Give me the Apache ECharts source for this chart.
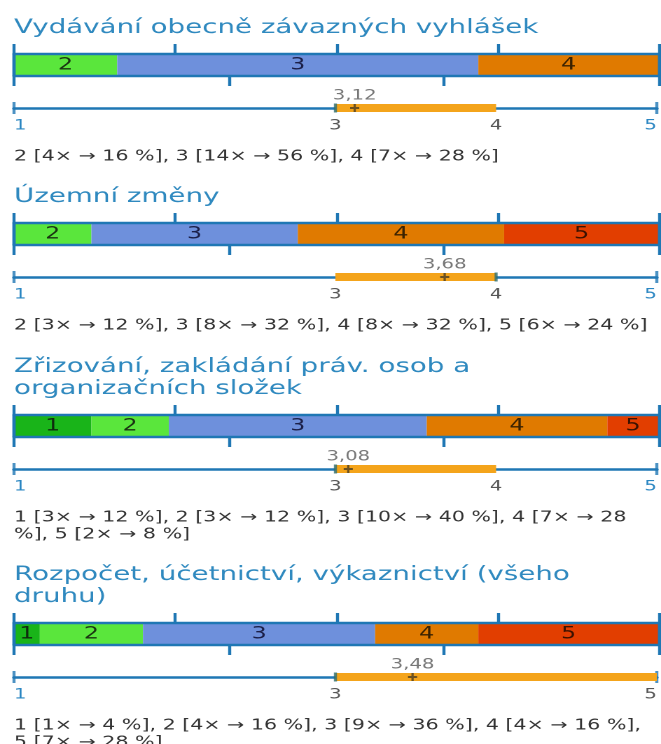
<!DOCTYPE html>
<html>
<head>
<meta charset="utf-8">
<script src="https://cdn.jsdelivr.net/npm/echarts@6/dist/echarts.min.js"></script>
<style>
  html, body { margin: 0; padding: 0; background: #fff; overflow: hidden; }
  /* the reference is stretched sideways, so draw narrow and widen */
  #chart { width: 472px; height: 744px; transform: scaleX(1.40042); transform-origin: 0 0; }
</style>
</head>
<body>
<div id="chart"></div>
<script>
var titles = [
  "Vydávání obecně závazných vyhlášek",
  "Územní změny",
  "Zřizování, zakládání práv. osob a\norganizačních složek",
  "Rozpočet, účetnictví, výkaznictví (všeho\ndruhu)"
];
var levels = ["1", "2", "3", "4", "5"];
// answers per level 1..5
var counts = [
  [0, 4, 14, 7, 0],
  [0, 3, 8, 8, 6],
  [3, 3, 10, 7, 2],
  [1, 4, 9, 4, 7]
];
var means = [3.12, 3.68, 3.08, 3.48];
var medians = [3, 4, 3, 3];
var q1 = [3, 3, 3, 3];
var q3 = [4, 4, 4, 5];
var scaleMin = 1;
var scaleMax = 5;
var summaries = [
  "2 [4× → 16 %], 3 [14× → 56 %], 4 [7× → 28 %]",
  "2 [3× → 12 %], 3 [8× → 32 %], 4 [8× → 32 %], 5 [6× → 24 %]",
  "1 [3× → 12 %], 2 [3× → 12 %], 3 [10× → 40 %], 4 [7× → 28\n%], 5 [2× → 8 %]",
  "1 [1× → 4 %], 2 [4× → 16 %], 3 [9× → 36 %], 4 [4× → 16 %],\n5 [7× → 28 %]"
];

var barTops = [54, 223, 415, 623];
var levelColors = ["#19b419", "#5ae63c", "#6e90dc", "#e07a00", "#e23e00"];
var levelText = ["#0f2a0f", "#1a3312", "#1b1f48", "#3a2200", "#3a1200"];
var blue = "#1f77b4";
var font = "DejaVu Sans";

function comma(v) {
  return String(v).replace(".", ",");
}

var option = {
  animation: false,
  title: [],
  grid: [],
  xAxis: [],
  yAxis: [],
  series: []
};

titles.forEach(function (t, i) {
  var B = barTops[i];
  var lines = t.split("\n").length;
  var total = counts[i].reduce(function (a, b) { return a + b; }, 0);
  var g = i * 2, xa = i * 3, ya = i * 3;

  option.title.push({
    text: t, left: 10, top: B - 37 - 22 * (lines - 1), padding: 0,
    textStyle: { color: "#2f89bf", fontSize: 19.8, fontWeight: "normal", fontFamily: font, lineHeight: 22 }
  });
  option.title.push({
    text: summaries[i], left: 10, top: B + 94, padding: 0,
    textStyle: { color: "#333", fontSize: 14.7, fontWeight: "normal", fontFamily: font, lineHeight: 17 }
  });

  option.grid.push({ left: 10, right: 1.5, top: B, height: 22 });
  option.grid.push({ left: 10, right: 1.5, top: B + 44, height: 20 });

  // stacked bar frame
  option.xAxis.push({
    gridIndex: g, type: "value", position: "top", min: 0, max: total, interval: total / 4,
    axisLine: { show: true, onZero: false, lineStyle: { color: blue, width: 2.4 } },
    axisTick: { show: true, length: 10, lineStyle: { color: blue, width: 2.2 } },
    axisLabel: { show: false }, splitLine: { show: false }, z: 5
  });
  option.xAxis.push({
    gridIndex: g, type: "value", position: "bottom", min: 0, max: total, interval: total / 3,
    axisLine: { show: true, onZero: false, lineStyle: { color: blue, width: 2.4 } },
    axisTick: { show: true, length: 10, lineStyle: { color: blue, width: 2.2 } },
    axisLabel: { show: false }, splitLine: { show: false }, z: 5
  });
  // 1..5 scale line
  var labelVals = [scaleMin, q1[i], q3[i], scaleMax].filter(function (v, k, a) { return a.indexOf(v) === k; });
  option.xAxis.push({
    gridIndex: g + 1, type: "value", position: "bottom", min: scaleMin, max: scaleMax,
    axisLine: { show: true, onZero: true, lineStyle: { color: blue, width: 2.6 } },
    axisTick: { show: false },
    axisLabel: {
      show: true, customValues: labelVals, margin: 1, alignMinLabel: "left", alignMaxLabel: "right",
      formatter: function (v) {
        return (v === q1[i] || v === q3[i]) ? "{q|" + v + "}" : "{e|" + v + "}";
      },
      rich: {
        q: { color: "#555", fontSize: 14, fontFamily: font },
        e: { color: "#2a86c2", fontSize: 14, fontFamily: font }
      }
    },
    splitLine: { show: false }
  });

  option.yAxis.push({
    gridIndex: g, type: "category", data: ["x"],
    axisLine: { show: true, onZero: false, lineStyle: { color: blue, width: 2.4 } },
    axisTick: { show: false }, axisLabel: { show: false }, z: 5
  });
  option.yAxis.push({
    gridIndex: g, type: "category", data: ["x"], position: "right",
    axisLine: { show: true, onZero: false, lineStyle: { color: blue, width: 2.4 } },
    axisTick: { show: false }, axisLabel: { show: false }, z: 5
  });
  option.yAxis.push({ gridIndex: g + 1, type: "value", min: -1, max: 1, show: false });

  levels.forEach(function (lv, k) {
    option.series.push({
      type: "bar", xAxisIndex: xa, yAxisIndex: ya, stack: "s" + i,
      data: [counts[i][k]], barWidth: "100%", silent: true,
      itemStyle: { color: levelColors[k] },
      label: {
        show: counts[i][k] > 0, position: "inside", formatter: lv,
        fontSize: 17, fontFamily: font, color: levelText[k]
      }
    });
  });

  // end caps of the scale line
  option.series.push({
    type: "scatter", xAxisIndex: xa + 2, yAxisIndex: ya + 2,
    data: [[scaleMin, 0], [scaleMax, 0]], symbol: "rect", symbolSize: [2.2, 12], silent: true,
    itemStyle: { color: blue }, z: 2
  });
  option.series.push({
    type: "line", xAxisIndex: xa + 2, yAxisIndex: ya + 2,
    data: [[q1[i], 0], [q3[i], 0]], symbol: "none", silent: true,
    lineStyle: { color: "#f4a41b", width: 8, cap: "butt" }, z: 3
  });
  option.series.push({
    type: "scatter", xAxisIndex: xa + 2, yAxisIndex: ya + 2,
    data: [[medians[i], 0]], symbol: "rect", symbolSize: [2.2, 9], silent: true,
    itemStyle: { color: "#2d6e70" }, z: 4
  });
  option.series.push({
    type: "scatter", xAxisIndex: xa + 2, yAxisIndex: ya + 2,
    data: [[means[i], 0]], symbol: "path://M3,0H5V3H8V5H5V8H3V5H0V3H3Z", symbolSize: [6.5, 8], silent: true,
    itemStyle: { color: "#4a3c22" },
    label: {
      show: true, position: "top", distance: 1, fontSize: 14, fontFamily: font, color: "#555",
      formatter: function (p) { return comma(p.value[0]); }
    },
    z: 5
  });
});

var chart = echarts.init(document.getElementById("chart"), null, { devicePixelRatio: 2 });
chart.setOption(option);
</script>
</body>
</html>
